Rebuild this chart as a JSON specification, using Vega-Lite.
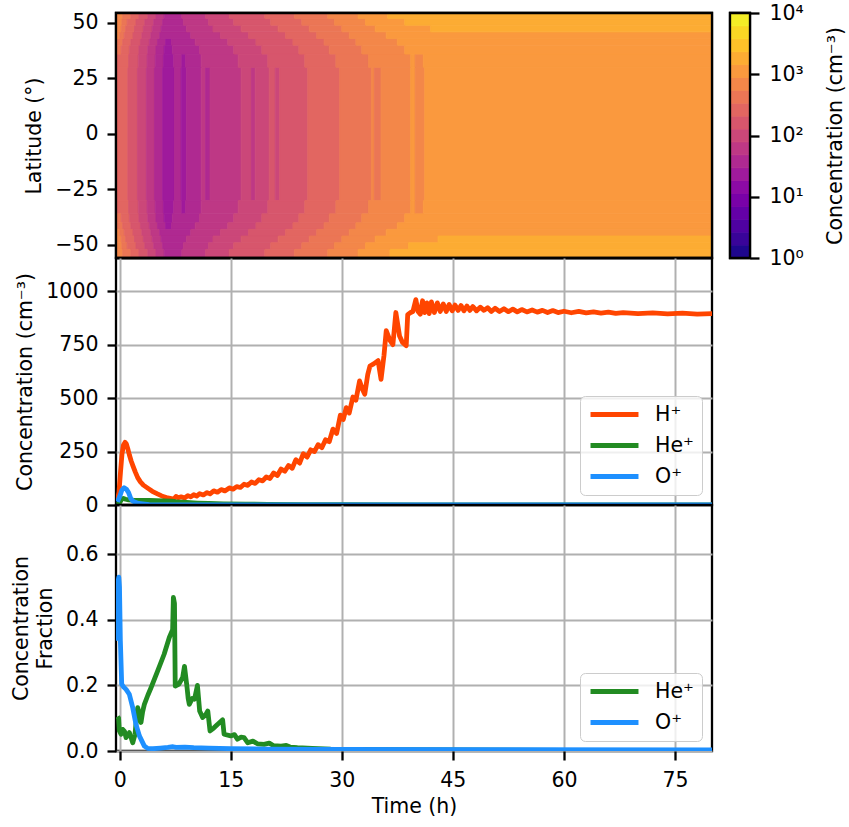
{
"$schema": "https://vega.github.io/schema/vega-lite/v6.json",
"padding": {"left": 10, "top": 1, "right": 0, "bottom": 0},
"background": "white",
"columns": 2,
"align": "each",
"bounds": "flush",
"spacing": {"row": 0, "column": 18},
"datasets": {
"heat": [
{"t0":-0.5,"t1":1.1,"a":-30,"b":30,"c":280},
{"t0":1.1,"t1":2.4,"a":-30,"b":30,"c":165},
{"t0":2.4,"t1":3.6,"a":-30,"b":30,"c":100},
{"t0":3.6,"t1":4.7,"a":-30,"b":30,"c":60},
{"t0":4.7,"t1":5.8,"a":-30,"b":30,"c":38},
{"t0":5.8,"t1":7.4,"a":-30,"b":30,"c":24},
{"t0":7.4,"t1":8.3,"a":-30,"b":30,"c":36},
{"t0":8.3,"t1":9.0,"a":-30,"b":30,"c":27},
{"t0":9.0,"t1":11.0,"a":-30,"b":30,"c":40},
{"t0":11.0,"t1":11.6,"a":-30,"b":30,"c":52},
{"t0":11.6,"t1":12.2,"a":-30,"b":30,"c":45},
{"t0":12.2,"t1":16.4,"a":-30,"b":30,"c":62},
{"t0":16.4,"t1":17.8,"a":-30,"b":30,"c":90},
{"t0":17.8,"t1":18.3,"a":-30,"b":30,"c":75},
{"t0":18.3,"t1":20.2,"a":-30,"b":30,"c":105},
{"t0":20.2,"t1":21.0,"a":-30,"b":30,"c":140},
{"t0":21.0,"t1":21.6,"a":-30,"b":30,"c":120},
{"t0":21.6,"t1":25.4,"a":-30,"b":30,"c":170},
{"t0":25.4,"t1":29.7,"a":-30,"b":30,"c":270},
{"t0":29.7,"t1":34.0,"a":-30,"b":30,"c":440},
{"t0":34.0,"t1":34.4,"a":-30,"b":30,"c":600},
{"t0":34.4,"t1":35.3,"a":-30,"b":30,"c":500},
{"t0":35.3,"t1":39.3,"a":-30,"b":30,"c":700},
{"t0":39.3,"t1":39.9,"a":-30,"b":30,"c":900},
{"t0":39.9,"t1":41.2,"a":-30,"b":30,"c":860},
{"t0":41.2,"t1":80.5,"a":-30,"b":30,"c":910},

{"t0":-0.5,"t1":1.2,"a":30,"b":36,"c":290},
{"t0":1.2,"t1":2.5,"a":30,"b":36,"c":170},
{"t0":2.5,"t1":3.7,"a":30,"b":36,"c":100},
{"t0":3.7,"t1":4.8,"a":30,"b":36,"c":60},
{"t0":4.8,"t1":5.9,"a":30,"b":36,"c":38},
{"t0":5.9,"t1":7.3,"a":30,"b":36,"c":25},
{"t0":7.3,"t1":8.4,"a":30,"b":36,"c":36},
{"t0":8.4,"t1":8.9,"a":30,"b":36,"c":27},
{"t0":8.9,"t1":11.0,"a":30,"b":36,"c":40},
{"t0":11.0,"t1":16.0,"a":30,"b":36,"c":62},
{"t0":16.0,"t1":20.0,"a":30,"b":36,"c":100},
{"t0":20.0,"t1":25.0,"a":30,"b":36,"c":165},
{"t0":25.0,"t1":29.2,"a":30,"b":36,"c":270},
{"t0":29.2,"t1":33.6,"a":30,"b":36,"c":440},
{"t0":33.6,"t1":39.3,"a":30,"b":36,"c":700},
{"t0":39.3,"t1":39.9,"a":30,"b":36,"c":900},
{"t0":39.9,"t1":41.0,"a":30,"b":36,"c":860},
{"t0":41.0,"t1":80.5,"a":30,"b":36,"c":910},

{"t0":-0.5,"t1":1.2,"a":-36,"b":-30,"c":290},
{"t0":1.2,"t1":2.5,"a":-36,"b":-30,"c":170},
{"t0":2.5,"t1":3.7,"a":-36,"b":-30,"c":100},
{"t0":3.7,"t1":4.8,"a":-36,"b":-30,"c":60},
{"t0":4.8,"t1":5.9,"a":-36,"b":-30,"c":38},
{"t0":5.9,"t1":7.3,"a":-36,"b":-30,"c":25},
{"t0":7.3,"t1":8.4,"a":-36,"b":-30,"c":36},
{"t0":8.4,"t1":8.9,"a":-36,"b":-30,"c":27},
{"t0":8.9,"t1":11.0,"a":-36,"b":-30,"c":40},
{"t0":11.0,"t1":16.0,"a":-36,"b":-30,"c":62},
{"t0":16.0,"t1":20.0,"a":-36,"b":-30,"c":100},
{"t0":20.0,"t1":25.0,"a":-36,"b":-30,"c":165},
{"t0":25.0,"t1":29.2,"a":-36,"b":-30,"c":270},
{"t0":29.2,"t1":33.6,"a":-36,"b":-30,"c":440},
{"t0":33.6,"t1":39.3,"a":-36,"b":-30,"c":700},
{"t0":39.3,"t1":39.9,"a":-36,"b":-30,"c":900},
{"t0":39.9,"t1":41.0,"a":-36,"b":-30,"c":860},
{"t0":41.0,"t1":80.5,"a":-36,"b":-30,"c":910},

{"t0":-0.5,"t1":0.2,"a":36,"b":40,"c":380},
{"t0":0.2,"t1":1.3,"a":36,"b":40,"c":300},
{"t0":1.3,"t1":2.6,"a":36,"b":40,"c":170},
{"t0":2.6,"t1":3.8,"a":36,"b":40,"c":100},
{"t0":3.8,"t1":4.9,"a":36,"b":40,"c":60},
{"t0":4.9,"t1":6.0,"a":36,"b":40,"c":38},
{"t0":6.0,"t1":7.1,"a":36,"b":40,"c":26},
{"t0":7.1,"t1":10.8,"a":36,"b":40,"c":40},
{"t0":10.8,"t1":15.4,"a":36,"b":40,"c":62},
{"t0":15.4,"t1":19.2,"a":36,"b":40,"c":100},
{"t0":19.2,"t1":24.2,"a":36,"b":40,"c":165},
{"t0":24.2,"t1":28.3,"a":36,"b":40,"c":270},
{"t0":28.3,"t1":32.7,"a":36,"b":40,"c":440},
{"t0":32.7,"t1":38.5,"a":36,"b":40,"c":700},
{"t0":38.5,"t1":80.5,"a":36,"b":40,"c":920},

{"t0":-0.5,"t1":0.2,"a":-40,"b":-36,"c":380},
{"t0":0.2,"t1":1.3,"a":-40,"b":-36,"c":300},
{"t0":1.3,"t1":2.6,"a":-40,"b":-36,"c":170},
{"t0":2.6,"t1":3.8,"a":-40,"b":-36,"c":100},
{"t0":3.8,"t1":4.9,"a":-40,"b":-36,"c":60},
{"t0":4.9,"t1":6.0,"a":-40,"b":-36,"c":38},
{"t0":6.0,"t1":7.1,"a":-40,"b":-36,"c":26},
{"t0":7.1,"t1":10.8,"a":-40,"b":-36,"c":40},
{"t0":10.8,"t1":15.4,"a":-40,"b":-36,"c":62},
{"t0":15.4,"t1":19.2,"a":-40,"b":-36,"c":100},
{"t0":19.2,"t1":24.2,"a":-40,"b":-36,"c":165},
{"t0":24.2,"t1":28.3,"a":-40,"b":-36,"c":270},
{"t0":28.3,"t1":32.7,"a":-40,"b":-36,"c":440},
{"t0":32.7,"t1":38.5,"a":-40,"b":-36,"c":700},
{"t0":38.5,"t1":80.5,"a":-40,"b":-36,"c":920},

{"t0":-0.5,"t1":0.4,"a":40,"b":43,"c":400},
{"t0":0.4,"t1":1.5,"a":40,"b":43,"c":300},
{"t0":1.5,"t1":2.8,"a":40,"b":43,"c":170},
{"t0":2.8,"t1":4.0,"a":40,"b":43,"c":100},
{"t0":4.0,"t1":5.1,"a":40,"b":43,"c":60},
{"t0":5.1,"t1":6.2,"a":40,"b":43,"c":38},
{"t0":6.2,"t1":7.0,"a":40,"b":43,"c":27},
{"t0":7.0,"t1":10.2,"a":40,"b":43,"c":40},
{"t0":10.2,"t1":14.6,"a":40,"b":43,"c":62},
{"t0":14.6,"t1":18.4,"a":40,"b":43,"c":100},
{"t0":18.4,"t1":23.4,"a":40,"b":43,"c":165},
{"t0":23.4,"t1":27.6,"a":40,"b":43,"c":270},
{"t0":27.6,"t1":31.9,"a":40,"b":43,"c":440},
{"t0":31.9,"t1":37.5,"a":40,"b":43,"c":700},
{"t0":37.5,"t1":80.5,"a":40,"b":43,"c":950},

{"t0":-0.5,"t1":0.4,"a":-43,"b":-40,"c":400},
{"t0":0.4,"t1":1.5,"a":-43,"b":-40,"c":300},
{"t0":1.5,"t1":2.8,"a":-43,"b":-40,"c":170},
{"t0":2.8,"t1":4.0,"a":-43,"b":-40,"c":100},
{"t0":4.0,"t1":5.1,"a":-43,"b":-40,"c":60},
{"t0":5.1,"t1":6.2,"a":-43,"b":-40,"c":38},
{"t0":6.2,"t1":7.0,"a":-43,"b":-40,"c":27},
{"t0":7.0,"t1":10.2,"a":-43,"b":-40,"c":40},
{"t0":10.2,"t1":14.6,"a":-43,"b":-40,"c":62},
{"t0":14.6,"t1":18.4,"a":-43,"b":-40,"c":100},
{"t0":18.4,"t1":23.4,"a":-43,"b":-40,"c":165},
{"t0":23.4,"t1":27.6,"a":-43,"b":-40,"c":270},
{"t0":27.6,"t1":31.9,"a":-43,"b":-40,"c":440},
{"t0":31.9,"t1":37.5,"a":-43,"b":-40,"c":700},
{"t0":37.5,"t1":80.5,"a":-43,"b":-40,"c":950},

{"t0":-0.5,"t1":0.0,"a":43,"b":46,"c":600},
{"t0":0.0,"t1":0.6,"a":43,"b":46,"c":420},
{"t0":0.6,"t1":1.8,"a":43,"b":46,"c":300},
{"t0":1.8,"t1":3.0,"a":43,"b":46,"c":170},
{"t0":3.0,"t1":4.2,"a":43,"b":46,"c":100},
{"t0":4.2,"t1":5.4,"a":43,"b":46,"c":62},
{"t0":5.4,"t1":9.6,"a":43,"b":46,"c":40},
{"t0":9.6,"t1":13.6,"a":43,"b":46,"c":62},
{"t0":13.6,"t1":17.4,"a":43,"b":46,"c":100},
{"t0":17.4,"t1":22.4,"a":43,"b":46,"c":165},
{"t0":22.4,"t1":26.6,"a":43,"b":46,"c":270},
{"t0":26.6,"t1":31.0,"a":43,"b":46,"c":440},
{"t0":31.0,"t1":36.0,"a":43,"b":46,"c":700},
{"t0":36.0,"t1":80.5,"a":43,"b":46,"c":1000},

{"t0":-0.5,"t1":0.0,"a":-46,"b":-43,"c":600},
{"t0":0.0,"t1":0.6,"a":-46,"b":-43,"c":420},
{"t0":0.6,"t1":1.8,"a":-46,"b":-43,"c":300},
{"t0":1.8,"t1":3.0,"a":-46,"b":-43,"c":170},
{"t0":3.0,"t1":4.2,"a":-46,"b":-43,"c":100},
{"t0":4.2,"t1":5.4,"a":-46,"b":-43,"c":62},
{"t0":5.4,"t1":9.6,"a":-46,"b":-43,"c":40},
{"t0":9.6,"t1":13.6,"a":-46,"b":-43,"c":62},
{"t0":13.6,"t1":17.4,"a":-46,"b":-43,"c":100},
{"t0":17.4,"t1":22.4,"a":-46,"b":-43,"c":165},
{"t0":22.4,"t1":26.6,"a":-46,"b":-43,"c":270},
{"t0":26.6,"t1":31.0,"a":-46,"b":-43,"c":440},
{"t0":31.0,"t1":36.0,"a":-46,"b":-43,"c":700},
{"t0":36.0,"t1":80.5,"a":-46,"b":-43,"c":1000},

{"t0":-0.5,"t1":0.2,"a":46,"b":49,"c":600},
{"t0":0.2,"t1":0.8,"a":46,"b":49,"c":450},
{"t0":0.8,"t1":2.0,"a":46,"b":49,"c":300},
{"t0":2.0,"t1":3.2,"a":46,"b":49,"c":170},
{"t0":3.2,"t1":4.4,"a":46,"b":49,"c":100},
{"t0":4.4,"t1":5.6,"a":46,"b":49,"c":62},
{"t0":5.6,"t1":9.0,"a":46,"b":49,"c":42},
{"t0":9.0,"t1":12.6,"a":46,"b":49,"c":62},
{"t0":12.6,"t1":16.4,"a":46,"b":49,"c":100},
{"t0":16.4,"t1":21.4,"a":46,"b":49,"c":165},
{"t0":21.4,"t1":25.6,"a":46,"b":49,"c":270},
{"t0":25.6,"t1":30.0,"a":46,"b":49,"c":440},
{"t0":30.0,"t1":34.5,"a":46,"b":49,"c":700},
{"t0":34.5,"t1":42.0,"a":46,"b":49,"c":1100},
{"t0":42.0,"t1":80.5,"a":46,"b":49,"c":1500},

{"t0":-0.5,"t1":0.2,"a":-49,"b":-46,"c":600},
{"t0":0.2,"t1":0.8,"a":-49,"b":-46,"c":450},
{"t0":0.8,"t1":2.0,"a":-49,"b":-46,"c":300},
{"t0":2.0,"t1":3.2,"a":-49,"b":-46,"c":170},
{"t0":3.2,"t1":4.4,"a":-49,"b":-46,"c":100},
{"t0":4.4,"t1":5.6,"a":-49,"b":-46,"c":62},
{"t0":5.6,"t1":9.0,"a":-49,"b":-46,"c":42},
{"t0":9.0,"t1":12.6,"a":-49,"b":-46,"c":62},
{"t0":12.6,"t1":16.4,"a":-49,"b":-46,"c":100},
{"t0":16.4,"t1":21.4,"a":-49,"b":-46,"c":165},
{"t0":21.4,"t1":25.6,"a":-49,"b":-46,"c":270},
{"t0":25.6,"t1":30.0,"a":-49,"b":-46,"c":440},
{"t0":30.0,"t1":34.5,"a":-49,"b":-46,"c":700},
{"t0":34.5,"t1":43.0,"a":-49,"b":-46,"c":1100},
{"t0":43.0,"t1":80.5,"a":-49,"b":-46,"c":1500},

{"t0":-0.5,"t1":0.3,"a":49,"b":52,"c":620},
{"t0":0.3,"t1":1.0,"a":49,"b":52,"c":500},
{"t0":1.0,"t1":2.2,"a":49,"b":52,"c":300},
{"t0":2.2,"t1":3.4,"a":49,"b":52,"c":170},
{"t0":3.4,"t1":4.6,"a":49,"b":52,"c":100},
{"t0":4.6,"t1":5.8,"a":49,"b":52,"c":62},
{"t0":5.8,"t1":8.6,"a":49,"b":52,"c":42},
{"t0":8.6,"t1":12.0,"a":49,"b":52,"c":62},
{"t0":12.0,"t1":15.4,"a":49,"b":52,"c":100},
{"t0":15.4,"t1":20.4,"a":49,"b":52,"c":165},
{"t0":20.4,"t1":24.6,"a":49,"b":52,"c":270},
{"t0":24.6,"t1":29.0,"a":49,"b":52,"c":440},
{"t0":29.0,"t1":33.2,"a":49,"b":52,"c":700},
{"t0":33.2,"t1":38.5,"a":49,"b":52,"c":1100},
{"t0":38.5,"t1":80.5,"a":49,"b":52,"c":1550},

{"t0":-0.5,"t1":0.3,"a":-52,"b":-49,"c":620},
{"t0":0.3,"t1":1.0,"a":-52,"b":-49,"c":500},
{"t0":1.0,"t1":2.2,"a":-52,"b":-49,"c":300},
{"t0":2.2,"t1":3.4,"a":-52,"b":-49,"c":170},
{"t0":3.4,"t1":4.6,"a":-52,"b":-49,"c":100},
{"t0":4.6,"t1":5.8,"a":-52,"b":-49,"c":62},
{"t0":5.8,"t1":8.6,"a":-52,"b":-49,"c":42},
{"t0":8.6,"t1":12.0,"a":-52,"b":-49,"c":62},
{"t0":12.0,"t1":15.4,"a":-52,"b":-49,"c":100},
{"t0":15.4,"t1":20.4,"a":-52,"b":-49,"c":165},
{"t0":20.4,"t1":24.6,"a":-52,"b":-49,"c":270},
{"t0":24.6,"t1":29.0,"a":-52,"b":-49,"c":440},
{"t0":29.0,"t1":33.2,"a":-52,"b":-49,"c":700},
{"t0":33.2,"t1":39.0,"a":-52,"b":-49,"c":1100},
{"t0":39.0,"t1":80.5,"a":-52,"b":-49,"c":1550},

{"t0":-0.5,"t1":0.4,"a":52,"b":56,"c":650},
{"t0":0.4,"t1":1.5,"a":52,"b":56,"c":420},
{"t0":1.5,"t1":2.6,"a":52,"b":56,"c":300},
{"t0":2.6,"t1":3.8,"a":52,"b":56,"c":170},
{"t0":3.8,"t1":4.9,"a":52,"b":56,"c":100},
{"t0":4.9,"t1":6.0,"a":52,"b":56,"c":62},
{"t0":6.0,"t1":8.4,"a":52,"b":56,"c":42},
{"t0":8.4,"t1":11.6,"a":52,"b":56,"c":62},
{"t0":11.6,"t1":14.8,"a":52,"b":56,"c":100},
{"t0":14.8,"t1":19.6,"a":52,"b":56,"c":165},
{"t0":19.6,"t1":23.6,"a":52,"b":56,"c":270},
{"t0":23.6,"t1":28.1,"a":52,"b":56,"c":440},
{"t0":28.1,"t1":32.2,"a":52,"b":56,"c":700},
{"t0":32.2,"t1":36.2,"a":52,"b":56,"c":1100},
{"t0":36.2,"t1":80.5,"a":52,"b":56,"c":1600},

{"t0":-0.5,"t1":0.4,"a":-57,"b":-52,"c":650},
{"t0":0.4,"t1":1.5,"a":-57,"b":-52,"c":420},
{"t0":1.5,"t1":2.6,"a":-57,"b":-52,"c":300},
{"t0":2.6,"t1":3.8,"a":-57,"b":-52,"c":170},
{"t0":3.8,"t1":4.9,"a":-57,"b":-52,"c":100},
{"t0":4.9,"t1":6.0,"a":-57,"b":-52,"c":62},
{"t0":6.0,"t1":8.4,"a":-57,"b":-52,"c":42},
{"t0":8.4,"t1":11.6,"a":-57,"b":-52,"c":62},
{"t0":11.6,"t1":14.8,"a":-57,"b":-52,"c":100},
{"t0":14.8,"t1":19.6,"a":-57,"b":-52,"c":165},
{"t0":19.6,"t1":23.6,"a":-57,"b":-52,"c":270},
{"t0":23.6,"t1":28.1,"a":-57,"b":-52,"c":440},
{"t0":28.1,"t1":32.2,"a":-57,"b":-52,"c":700},
{"t0":32.2,"t1":36.5,"a":-57,"b":-52,"c":1100},
{"t0":36.5,"t1":80.5,"a":-57,"b":-52,"c":1600}
],
"bar": [
{"lo":1,"hi":1.624,"m":1.274},
{"lo":1.624,"hi":2.637,"m":2.069},
{"lo":2.637,"hi":4.281,"m":3.36},
{"lo":4.281,"hi":6.952,"m":5.456},
{"lo":6.952,"hi":11.29,"m":8.859},
{"lo":11.29,"hi":18.33,"m":14.38},
{"lo":18.33,"hi":29.76,"m":23.36},
{"lo":29.76,"hi":48.33,"m":37.93},
{"lo":48.33,"hi":78.48,"m":61.58},
{"lo":78.48,"hi":127.4,"m":100},
{"lo":127.4,"hi":206.9,"m":162.4},
{"lo":206.9,"hi":336,"m":263.7},
{"lo":336,"hi":545.6,"m":428.1},
{"lo":545.6,"hi":885.9,"m":695.2},
{"lo":885.9,"hi":1438,"m":1128.8},
{"lo":1438,"hi":2336,"m":1833},
{"lo":2336,"hi":3793,"m":2976},
{"lo":3793,"hi":6158,"m":4833},
{"lo":6158,"hi":10000,"m":7848}
],
"conc": [
{"t":-0.3,"v":22,"s":"H⁺"},{"t":-0.1,"v":60,"s":"H⁺"},{"t":0.1,"v":150,"s":"H⁺"},{"t":0.3,"v":235,"s":"H⁺"},{"t":0.5,"v":280,"s":"H⁺"},{"t":0.72,"v":293,"s":"H⁺"},{"t":0.9,"v":285,"s":"H⁺"},{"t":1.1,"v":262,"s":"H⁺"},{"t":1.3,"v":235,"s":"H⁺"},{"t":1.55,"v":206,"s":"H⁺"},{"t":1.8,"v":182,"s":"H⁺"},{"t":2.1,"v":155,"s":"H⁺"},{"t":2.43,"v":128,"s":"H⁺"},{"t":2.8,"v":108,"s":"H⁺"},{"t":3.2,"v":93,"s":"H⁺"},{"t":3.78,"v":79,"s":"H⁺"},{"t":4.4,"v":64,"s":"H⁺"},{"t":5.1,"v":52,"s":"H⁺"},{"t":5.6,"v":44,"s":"H⁺"},{"t":6.0,"v":38,"s":"H⁺"},{"t":6.5,"v":33,"s":"H⁺"},{"t":7.0,"v":30,"s":"H⁺"},{"t":7.3,"v":28,"s":"H⁺"},{"t":7.6,"v":40,"s":"H⁺"},{"t":7.9,"v":34,"s":"H⁺"},{"t":8.3,"v":38,"s":"H⁺"},{"t":8.8,"v":33,"s":"H⁺"},{"t":9.2,"v":44,"s":"H⁺"},{"t":9.6,"v":38,"s":"H⁺"},{"t":10.0,"v":48,"s":"H⁺"},{"t":10.4,"v":42,"s":"H⁺"},{"t":10.8,"v":53,"s":"H⁺"},{"t":11.3,"v":47,"s":"H⁺"},{"t":11.8,"v":58,"s":"H⁺"},{"t":12.2,"v":52,"s":"H⁺"},{"t":12.7,"v":66,"s":"H⁺"},{"t":13.2,"v":60,"s":"H⁺"},{"t":13.7,"v":72,"s":"H⁺"},{"t":14.2,"v":66,"s":"H⁺"},{"t":14.8,"v":80,"s":"H⁺"},{"t":15.3,"v":74,"s":"H⁺"},{"t":15.8,"v":86,"s":"H⁺"},{"t":16.3,"v":82,"s":"H⁺"},{"t":16.8,"v":97,"s":"H⁺"},{"t":17.3,"v":92,"s":"H⁺"},{"t":17.8,"v":108,"s":"H⁺"},{"t":18.3,"v":101,"s":"H⁺"},{"t":18.8,"v":118,"s":"H⁺"},{"t":19.3,"v":113,"s":"H⁺"},{"t":19.8,"v":131,"s":"H⁺"},{"t":20.3,"v":124,"s":"H⁺"},{"t":20.8,"v":150,"s":"H⁺"},{"t":21.3,"v":138,"s":"H⁺"},{"t":21.8,"v":168,"s":"H⁺"},{"t":22.3,"v":158,"s":"H⁺"},{"t":22.8,"v":185,"s":"H⁺"},{"t":23.3,"v":172,"s":"H⁺"},{"t":23.8,"v":212,"s":"H⁺"},{"t":24.3,"v":196,"s":"H⁺"},{"t":24.8,"v":240,"s":"H⁺"},{"t":25.3,"v":224,"s":"H⁺"},{"t":25.8,"v":258,"s":"H⁺"},{"t":26.3,"v":250,"s":"H⁺"},{"t":26.8,"v":282,"s":"H⁺"},{"t":27.3,"v":268,"s":"H⁺"},{"t":27.8,"v":305,"s":"H⁺"},{"t":28.3,"v":296,"s":"H⁺"},{"t":28.8,"v":355,"s":"H⁺"},{"t":29.3,"v":335,"s":"H⁺"},{"t":29.8,"v":420,"s":"H⁺"},{"t":30.2,"v":400,"s":"H⁺"},{"t":30.6,"v":455,"s":"H⁺"},{"t":31.0,"v":430,"s":"H⁺"},{"t":31.5,"v":505,"s":"H⁺"},{"t":31.9,"v":490,"s":"H⁺"},{"t":32.4,"v":580,"s":"H⁺"},{"t":32.8,"v":540,"s":"H⁺"},{"t":33.1,"v":518,"s":"H⁺"},{"t":33.5,"v":610,"s":"H⁺"},{"t":33.8,"v":650,"s":"H⁺"},{"t":34.3,"v":660,"s":"H⁺"},{"t":34.9,"v":675,"s":"H⁺"},{"t":35.3,"v":588,"s":"H⁺"},{"t":35.7,"v":700,"s":"H⁺"},{"t":36.0,"v":815,"s":"H⁺"},{"t":36.5,"v":770,"s":"H⁺"},{"t":36.9,"v":750,"s":"H⁺"},{"t":37.3,"v":900,"s":"H⁺"},{"t":37.8,"v":790,"s":"H⁺"},{"t":38.2,"v":760,"s":"H⁺"},{"t":38.7,"v":745,"s":"H⁺"},{"t":38.9,"v":890,"s":"H⁺"},{"t":39.3,"v":900,"s":"H⁺"},{"t":39.6,"v":905,"s":"H⁺"},{"t":40.0,"v":960,"s":"H⁺"},{"t":40.3,"v":905,"s":"H⁺"},{"t":40.6,"v":892,"s":"H⁺"},{"t":40.9,"v":955,"s":"H⁺"},{"t":41.2,"v":900,"s":"H⁺"},{"t":41.5,"v":945,"s":"H⁺"},{"t":41.8,"v":895,"s":"H⁺"},{"t":42.1,"v":950,"s":"H⁺"},{"t":42.5,"v":900,"s":"H⁺"},{"t":42.9,"v":945,"s":"H⁺"},{"t":43.3,"v":905,"s":"H⁺"},{"t":43.7,"v":940,"s":"H⁺"},{"t":44.1,"v":905,"s":"H⁺"},{"t":44.5,"v":938,"s":"H⁺"},{"t":44.9,"v":908,"s":"H⁺"},{"t":45.3,"v":935,"s":"H⁺"},{"t":45.7,"v":910,"s":"H⁺"},{"t":46.1,"v":933,"s":"H⁺"},{"t":46.5,"v":908,"s":"H⁺"},{"t":46.9,"v":930,"s":"H⁺"},{"t":47.3,"v":910,"s":"H⁺"},{"t":47.7,"v":928,"s":"H⁺"},{"t":48.2,"v":908,"s":"H⁺"},{"t":48.7,"v":925,"s":"H⁺"},{"t":49.2,"v":910,"s":"H⁺"},{"t":49.7,"v":922,"s":"H⁺"},{"t":50.2,"v":905,"s":"H⁺"},{"t":50.7,"v":920,"s":"H⁺"},{"t":51.3,"v":905,"s":"H⁺"},{"t":51.9,"v":918,"s":"H⁺"},{"t":52.5,"v":904,"s":"H⁺"},{"t":53.1,"v":916,"s":"H⁺"},{"t":53.7,"v":903,"s":"H⁺"},{"t":54.3,"v":914,"s":"H⁺"},{"t":55.0,"v":903,"s":"H⁺"},{"t":55.7,"v":912,"s":"H⁺"},{"t":56.4,"v":902,"s":"H⁺"},{"t":57.1,"v":910,"s":"H⁺"},{"t":57.8,"v":900,"s":"H⁺"},{"t":58.5,"v":909,"s":"H⁺"},{"t":59.2,"v":900,"s":"H⁺"},{"t":60,"v":906,"s":"H⁺"},{"t":61,"v":899,"s":"H⁺"},{"t":62,"v":905,"s":"H⁺"},{"t":63,"v":898,"s":"H⁺"},{"t":64,"v":903,"s":"H⁺"},{"t":65,"v":897,"s":"H⁺"},{"t":66,"v":902,"s":"H⁺"},{"t":67,"v":896,"s":"H⁺"},{"t":68,"v":900,"s":"H⁺"},{"t":70,"v":895,"s":"H⁺"},{"t":72,"v":898,"s":"H⁺"},{"t":74,"v":894,"s":"H⁺"},{"t":76,"v":897,"s":"H⁺"},{"t":78,"v":893,"s":"H⁺"},{"t":80,"v":895,"s":"H⁺"},
{"t":-0.3,"v":2,"s":"He⁺"},{"t":0.0,"v":12,"s":"He⁺"},{"t":0.3,"v":28,"s":"He⁺"},{"t":0.5,"v":31,"s":"He⁺"},{"t":0.8,"v":27,"s":"He⁺"},{"t":1.2,"v":24,"s":"He⁺"},{"t":2.0,"v":22,"s":"He⁺"},{"t":3.0,"v":21,"s":"He⁺"},{"t":4.0,"v":21,"s":"He⁺"},{"t":5.0,"v":20,"s":"He⁺"},{"t":6.0,"v":19,"s":"He⁺"},{"t":7.0,"v":18,"s":"He⁺"},{"t":7.3,"v":17,"s":"He⁺"},{"t":7.6,"v":14,"s":"He⁺"},{"t":8.6,"v":13,"s":"He⁺"},{"t":9.5,"v":11,"s":"He⁺"},{"t":10.5,"v":9,"s":"He⁺"},{"t":12,"v":7,"s":"He⁺"},{"t":14,"v":5,"s":"He⁺"},{"t":17,"v":4,"s":"He⁺"},{"t":20,"v":3,"s":"He⁺"},{"t":25,"v":2,"s":"He⁺"},{"t":30,"v":1.2,"s":"He⁺"},{"t":40,"v":0.7,"s":"He⁺"},{"t":50,"v":0.5,"s":"He⁺"},{"t":80,"v":0.4,"s":"He⁺"},
{"t":-0.3,"v":15,"s":"O⁺"},{"t":0.0,"v":40,"s":"O⁺"},{"t":0.3,"v":70,"s":"O⁺"},{"t":0.6,"v":81,"s":"O⁺"},{"t":0.9,"v":74,"s":"O⁺"},{"t":1.2,"v":58,"s":"O⁺"},{"t":1.5,"v":30,"s":"O⁺"},{"t":1.8,"v":18,"s":"O⁺"},{"t":2.2,"v":11,"s":"O⁺"},{"t":2.6,"v":7,"s":"O⁺"},{"t":3.1,"v":5,"s":"O⁺"},{"t":4,"v":2,"s":"O⁺"},{"t":6,"v":1,"s":"O⁺"},{"t":10,"v":0.6,"s":"O⁺"},{"t":20,"v":0.3,"s":"O⁺"},{"t":80,"v":0.2,"s":"O⁺"}
],
"frac": [
{"t":-0.3,"v":0.105,"s":"He⁺"},{"t":-0.15,"v":0.1,"s":"He⁺"},{"t":-0.05,"v":0.062,"s":"He⁺"},{"t":0.18,"v":0.051,"s":"He⁺"},{"t":0.4,"v":0.066,"s":"He⁺"},{"t":0.65,"v":0.06,"s":"He⁺"},{"t":0.86,"v":0.041,"s":"He⁺"},{"t":1.1,"v":0.05,"s":"He⁺"},{"t":1.3,"v":0.056,"s":"He⁺"},{"t":1.55,"v":0.04,"s":"He⁺"},{"t":1.76,"v":0.025,"s":"He⁺"},{"t":2.07,"v":0.051,"s":"He⁺"},{"t":2.3,"v":0.11,"s":"He⁺"},{"t":2.43,"v":0.132,"s":"He⁺"},{"t":2.6,"v":0.117,"s":"He⁺"},{"t":2.88,"v":0.087,"s":"He⁺"},{"t":3.1,"v":0.12,"s":"He⁺"},{"t":3.33,"v":0.142,"s":"He⁺"},{"t":3.8,"v":0.17,"s":"He⁺"},{"t":4.23,"v":0.193,"s":"He⁺"},{"t":5.13,"v":0.244,"s":"He⁺"},{"t":6.0,"v":0.295,"s":"He⁺"},{"t":6.7,"v":0.346,"s":"He⁺"},{"t":7.15,"v":0.37,"s":"He⁺"},{"t":7.25,"v":0.468,"s":"He⁺"},{"t":7.4,"v":0.45,"s":"He⁺"},{"t":7.5,"v":0.198,"s":"He⁺"},{"t":8.0,"v":0.204,"s":"He⁺"},{"t":8.5,"v":0.224,"s":"He⁺"},{"t":8.75,"v":0.258,"s":"He⁺"},{"t":9.1,"v":0.193,"s":"He⁺"},{"t":9.25,"v":0.16,"s":"He⁺"},{"t":9.4,"v":0.142,"s":"He⁺"},{"t":9.8,"v":0.16,"s":"He⁺"},{"t":10.1,"v":0.158,"s":"He⁺"},{"t":10.5,"v":0.2,"s":"He⁺"},{"t":10.8,"v":0.122,"s":"He⁺"},{"t":11.2,"v":0.102,"s":"He⁺"},{"t":11.6,"v":0.11,"s":"He⁺"},{"t":11.9,"v":0.122,"s":"He⁺"},{"t":12.2,"v":0.061,"s":"He⁺"},{"t":12.7,"v":0.07,"s":"He⁺"},{"t":13.2,"v":0.081,"s":"He⁺"},{"t":13.9,"v":0.095,"s":"He⁺"},{"t":14.1,"v":0.051,"s":"He⁺"},{"t":15.0,"v":0.046,"s":"He⁺"},{"t":15.5,"v":0.05,"s":"He⁺"},{"t":15.9,"v":0.036,"s":"He⁺"},{"t":16.4,"v":0.042,"s":"He⁺"},{"t":16.8,"v":0.041,"s":"He⁺"},{"t":17.3,"v":0.025,"s":"He⁺"},{"t":18.0,"v":0.03,"s":"He⁺"},{"t":18.6,"v":0.022,"s":"He⁺"},{"t":19.5,"v":0.02,"s":"He⁺"},{"t":20.2,"v":0.024,"s":"He⁺"},{"t":20.8,"v":0.016,"s":"He⁺"},{"t":21.8,"v":0.015,"s":"He⁺"},{"t":22.5,"v":0.017,"s":"He⁺"},{"t":23.0,"v":0.012,"s":"He⁺"},{"t":24,"v":0.01,"s":"He⁺"},{"t":26,"v":0.008,"s":"He⁺"},{"t":28.5,"v":0.006,"s":"He⁺"},{"t":32,"v":0.005,"s":"He⁺"},{"t":36,"v":0.004,"s":"He⁺"},{"t":45,"v":0.003,"s":"He⁺"},{"t":60,"v":0.002,"s":"He⁺"},{"t":80,"v":0.002,"s":"He⁺"},
{"t":-0.27,"v":0.336,"s":"O⁺"},{"t":-0.2,"v":0.52,"s":"O⁺"},{"t":-0.12,"v":0.53,"s":"O⁺"},{"t":-0.03,"v":0.5,"s":"O⁺"},{"t":0.09,"v":0.336,"s":"O⁺"},{"t":0.27,"v":0.204,"s":"O⁺"},{"t":0.5,"v":0.196,"s":"O⁺"},{"t":0.86,"v":0.188,"s":"O⁺"},{"t":1.3,"v":0.173,"s":"O⁺"},{"t":1.76,"v":0.132,"s":"O⁺"},{"t":2.2,"v":0.081,"s":"O⁺"},{"t":2.66,"v":0.046,"s":"O⁺"},{"t":3.33,"v":0.015,"s":"O⁺"},{"t":3.78,"v":0.008,"s":"O⁺"},{"t":4.5,"v":0.007,"s":"O⁺"},{"t":5.5,"v":0.009,"s":"O⁺"},{"t":6.5,"v":0.011,"s":"O⁺"},{"t":7.2,"v":0.013,"s":"O⁺"},{"t":7.6,"v":0.011,"s":"O⁺"},{"t":8.8,"v":0.012,"s":"O⁺"},{"t":10,"v":0.01,"s":"O⁺"},{"t":12,"v":0.009,"s":"O⁺"},{"t":15,"v":0.007,"s":"O⁺"},{"t":20,"v":0.006,"s":"O⁺"},{"t":30,"v":0.005,"s":"O⁺"},{"t":50,"v":0.004,"s":"O⁺"},{"t":80,"v":0.003,"s":"O⁺"}
]
},
"concat": [
{
"width": 596, "height": 245,
"layer": [
{"data": {"name": "heat"},
"mark": {"type": "rect", "clip": true, "strokeWidth": 0.8},
"encoding": {
"x": {"field": "t0", "type": "quantitative", "scale": {"domain": [-0.5, 80], "nice": false, "zero": false}, "axis": null},
"x2": {"field": "t1"},
"y": {"field": "a", "type": "quantitative", "scale": {"domain": [-55.9, 54.5], "nice": false, "zero": false}, "axis": {"title": "Latitude (°)", "values": [-50, -25, 0, 25, 50]}},
"y2": {"field": "b"},
"color": {"field": "c", "type": "quantitative", "scale": {"type": "threshold", "domain": [1.624,2.637,4.281,6.952,11.29,18.33,29.76,48.33,78.48,127.4,206.9,336,545.6,885.9,1438,2336,3793,6158], "scheme": {"name": "plasma", "extent": [-0.026316, 1.026316]}}, "legend": null},
"stroke": {"field": "c", "type": "quantitative", "scale": {"type": "threshold", "domain": [1.624,2.637,4.281,6.952,11.29,18.33,29.76,48.33,78.48,127.4,206.9,336,545.6,885.9,1438,2336,3793,6158], "scheme": {"name": "plasma", "extent": [-0.026316, 1.026316]}}, "legend": null}
}},
{"data": {"values": [{}]},
"mark": {"type": "rect", "filled": false, "stroke": "black", "strokeWidth": 2.3},
"encoding": {"x": {"datum": -0.5}, "x2": {"datum": 80}, "y": {"datum": -55.9}, "y2": {"datum": 54.5}}}
]
},
{
"width": 20, "height": 245,
"layer": [
{"data": {"name": "bar"},
"mark": {"type": "rect", "strokeWidth": 0.8},
"encoding": {
"y": {"field": "lo", "type": "quantitative", "scale": {"type": "log", "domain": [1, 10000], "nice": false}, "axis": {"orient": "right", "title": "Concentration (cm⁻³)", "values": [1, 10, 100, 1000, 10000], "labelExpr": "datum.value == 1 ? '10⁰' : datum.value == 10 ? '10¹' : datum.value == 100 ? '10²' : datum.value == 1000 ? '10³' : '10⁴'", "titleAngle": -90, "titleBaseline": "top", "labelPadding": 10, "titlePadding": 22}},
"y2": {"field": "hi"},
"color": {"field": "m", "type": "quantitative", "scale": {"type": "threshold", "domain": [1.624,2.637,4.281,6.952,11.29,18.33,29.76,48.33,78.48,127.4,206.9,336,545.6,885.9,1438,2336,3793,6158], "scheme": {"name": "plasma", "extent": [-0.026316, 1.026316]}}, "legend": null},
"stroke": {"field": "m", "type": "quantitative", "scale": {"type": "threshold", "domain": [1.624,2.637,4.281,6.952,11.29,18.33,29.76,48.33,78.48,127.4,206.9,336,545.6,885.9,1438,2336,3793,6158], "scheme": {"name": "plasma", "extent": [-0.026316, 1.026316]}}, "legend": null}
}},
{"data": {"values": [{}]},
"mark": {"type": "rect", "filled": false, "stroke": "black", "strokeWidth": 2.3},
"encoding": {"y": {"datum": 1}, "y2": {"datum": 10000}}}
]
},
{
"width": 596, "height": 247,
"data": {"name": "conc"},
"mark": {"type": "line", "clip": true, "strokeWidth": 4.8, "strokeJoin": "round"},
"encoding": {
"x": {"field": "t", "type": "quantitative", "scale": {"domain": [-0.5, 80], "nice": false, "zero": false}, "axis": {"values": [0, 15, 30, 45, 60, 75], "grid": true, "labels": false, "ticks": false, "title": null}},
"y": {"field": "v", "type": "quantitative", "scale": {"domain": [0, 1155], "nice": false}, "axis": {"values": [0, 250, 500, 750, 1000], "format": "d", "grid": true, "title": "Concentration (cm⁻³)"}},
"color": {"field": "s", "type": "nominal", "scale": {"domain": ["H⁺", "He⁺", "O⁺"], "range": ["#ff4500", "#228b22", "#1e90ff"]},
"legend": {"title": null, "orient": "bottom-right", "offset": 10, "symbolType": "stroke", "symbolStrokeWidth": 5, "symbolSize": 2300, "clipHeight": 21, "rowPadding": 10, "labelOffset": 14, "padding": 8, "fillColor": "rgba(255,255,255,0.8)", "strokeColor": "#cccccc", "cornerRadius": 5, "labelFontSize": 20.5}}
}
},
{
"width": 20, "height": 20,
"view": {"stroke": null},
"data": {"values": [{}]},
"mark": {"type": "point", "opacity": 0},
"encoding": {}
},
{
"width": 596, "height": 246,
"data": {"name": "frac"},
"mark": {"type": "line", "clip": true, "strokeWidth": 4.8, "strokeJoin": "round"},
"encoding": {
"x": {"field": "t", "type": "quantitative", "scale": {"domain": [-0.5, 80], "nice": false, "zero": false}, "axis": {"values": [0, 15, 30, 45, 60, 75], "grid": true, "title": "Time (h)", "labelPadding": 10, "titlePadding": 6}},
"y": {"field": "v", "type": "quantitative", "scale": {"domain": [0, 0.75], "nice": false}, "axis": {"values": [0, 0.2, 0.4, 0.6], "format": ".1f", "grid": true, "title": ["Concentration", "Fraction"], "titleLineHeight": 24}},
"color": {"field": "s", "type": "nominal", "scale": {"domain": ["He⁺", "O⁺"], "range": ["#228b22", "#1e90ff"]},
"legend": {"title": null, "orient": "bottom-right", "offset": 10, "symbolType": "stroke", "symbolStrokeWidth": 5, "symbolSize": 2300, "clipHeight": 21, "rowPadding": 10, "labelOffset": 14, "padding": 8, "fillColor": "rgba(255,255,255,0.8)", "strokeColor": "#cccccc", "cornerRadius": 5, "labelFontSize": 20.5}}
}
}
],
"resolve": {"scale": {"color": "independent", "stroke": "independent"}, "legend": {"color": "independent", "stroke": "independent"}},
"config": {
"font": "DejaVu Sans",
"view": {"stroke": "black", "strokeWidth": 2.3},
"axis": {"labelFont": "DejaVu Sans", "titleFont": "DejaVu Sans", "labelFontSize": 20.5, "titleFontSize": 20.5, "titleFontWeight": "normal", "labelColor": "black", "titleColor": "black", "tickColor": "black", "tickWidth": 2.3, "tickSize": 9, "labelPadding": 9, "domain": false, "grid": false, "gridColor": "#b0b0b0", "gridWidth": 2, "gridOpacity": 1, "labelFlush": false, "labelOverlap": false, "titlePadding": 10},
"legend": {"labelFont": "DejaVu Sans", "labelFontSize": 20.5, "labelColor": "black"}
}
}
